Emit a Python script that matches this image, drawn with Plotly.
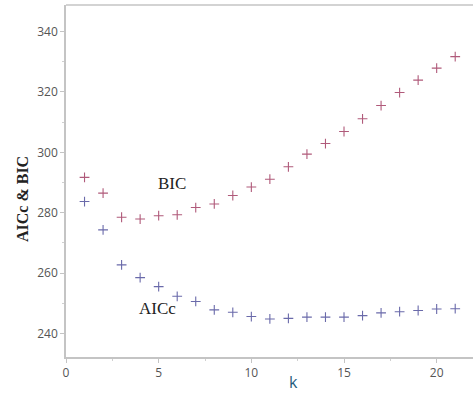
import plotly.graph_objects as go

k = list(range(1, 22))
bic = [291.7, 286.5, 278.5, 277.9, 279.0, 279.3, 281.7, 282.9, 285.7, 288.5, 291.1,
       295.2, 299.4, 302.9, 306.9, 311.1, 315.5, 319.8, 323.9, 327.9, 331.7]
aicc = [283.7, 274.3, 262.7, 258.5, 255.5, 252.3, 250.6, 247.8, 247.0, 245.6, 244.8,
        245.0, 245.4, 245.4, 245.4, 245.9, 246.8, 247.2, 247.6, 248.1, 248.2]

fig = go.Figure()
fig.add_trace(go.Scatter(x=k, y=bic, mode="markers", name="BIC",
                         marker=dict(symbol="cross-thin", size=7,
                                     line=dict(color="#b05a7a", width=1.1))))
fig.add_trace(go.Scatter(x=k, y=aicc, mode="markers", name="AICc",
                         marker=dict(symbol="cross-thin", size=7,
                                     line=dict(color="#6a6aaa", width=1.1))))

fig.add_annotation(x=5.7, y=289.8, text="BIC", showarrow=False,
                   font=dict(family="Liberation Serif", size=17, color="#222"))
fig.add_annotation(x=4.96, y=248.2, text="AICc", showarrow=False,
                   font=dict(family="Liberation Serif", size=17, color="#222"))
fig.add_annotation(xref="paper", yref="paper", x=-0.107, y=0.45, text="<b>AICc & BIC</b>",
                   textangle=-90, showarrow=False, xanchor="center", yanchor="middle",
                   font=dict(family="Liberation Serif", size=16, color="#222"))
fig.add_annotation(xref="paper", yref="paper", x=0.56, y=-0.072, text="k",
                   showarrow=False, xanchor="center", yanchor="middle",
                   font=dict(family="Open Sans", size=16, color="#1f5d7c"))

fig.add_shape(type="line", xref="paper", yref="paper", x0=0, x1=1, y0=1, y1=1,
              line=dict(color="#c4c4c4", width=1.5))

axis_common = dict(showgrid=False, zeroline=False, showline=True, linecolor="#c4c4c4",
                   linewidth=1.5, ticks="outside", ticklen=4, tickcolor="#c4c4c4",
                   tickfont=dict(family="Open Sans", size=12, color="#555"))
fig.update_xaxes(range=[0, 21.96], tickvals=[0, 5, 10, 15, 20],
                 minor=dict(dtick=2.5, tick0=0, ticks="outside", ticklen=2, tickcolor="#d0d0d0"),
                 **axis_common)
fig.update_yaxes(range=[232.2, 348.8], tickvals=[240, 260, 280, 300, 320, 340],
                 minor=dict(dtick=10, tick0=230, ticks="outside", ticklen=2, tickcolor="#d0d0d0"),
                 **axis_common)

fig.update_layout(width=473, height=393, margin=dict(l=66, r=0, t=5, b=36),
                  paper_bgcolor="white", plot_bgcolor="white", showlegend=False)

fig.write_html("out.html")
